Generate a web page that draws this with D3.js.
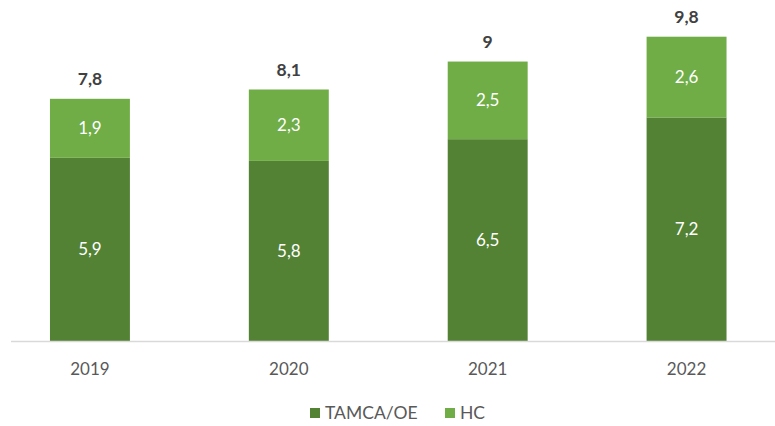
<!DOCTYPE html>
<html>
<head>
<meta charset="utf-8">
<script src="https://cdn.jsdelivr.net/npm/d3@7"></script>
<style>
  html, body { margin: 0; padding: 0; background: #ffffff; }
  svg { display: block; font-family: Lato, "Open Sans", sans-serif; }
</style>
</head>
<body>
<svg id="chart" width="775" height="426"></svg>
<script>
// Yearly values, stacked bottom (TAMCA/OE) then top (HC)
const years = ["2019", "2020", "2021", "2022"];
const tamcaOe = [5.9, 5.8, 6.5, 7.2];
const hc = [1.9, 2.3, 2.5, 2.6];
const totals = [7.8, 8.1, 9, 9.8];
const seriesNames = ["TAMCA/OE", "HC"];
const seriesColors = ["#548235", "#70AD47"];

const fmt = v => String(v).replace(".", ",");

const svg = d3.select("#chart");
const W = 775, H = 426;
const baseY = 341;

const x = d3.scaleBand()
  .domain(years)
  .range([-9.5, 786])
  .paddingInner(0.598)
  .paddingOuter(0.299);

const y = d3.scaleLinear().domain([0, 10]).range([baseY, 30.5]);

const rows = years.map((yr, i) => ({ year: yr, "TAMCA/OE": tamcaOe[i], "HC": hc[i], total: totals[i] }));
const stacked = d3.stack().keys(seriesNames)(rows);

// Bars
svg.append("g").selectAll("g")
  .data(stacked)
  .join("g")
  .attr("fill", (d, i) => seriesColors[i])
  .selectAll("rect")
  .data(d => d)
  .join("rect")
  .attr("x", d => x(d.data.year))
  .attr("width", x.bandwidth())
  .attr("y", d => y(d[1]))
  .attr("height", d => y(d[0]) - y(d[1]));

// Segment value labels
svg.append("g").selectAll("g")
  .data(stacked)
  .join("g")
  .selectAll("text")
  .data(d => d.map(s => ({ s, v: s[1] - s[0] })))
  .join("text")
  .attr("x", d => x(d.s.data.year) + x.bandwidth() / 2)
  .attr("y", d => (y(d.s[0]) + y(d.s[1])) / 2)
  .attr("dy", "0.35em")
  .attr("text-anchor", "middle")
  .attr("fill", "#ffffff")
  .attr("font-size", 17)
  .text(d => fmt(+d.v.toFixed(1)));

// Totals above bars
svg.append("g").selectAll("text")
  .data(rows)
  .join("text")
  .attr("x", d => x(d.year) + x.bandwidth() / 2)
  .attr("y", d => y(d.total) - 20)
  .attr("dy", "0.35em")
  .attr("text-anchor", "middle")
  .attr("fill", "#404040")
  .attr("font-weight", "bold")
  .attr("font-size", 17.5)
  .text(d => fmt(d.total));

// Category axis
const axis = svg.append("g").attr("transform", `translate(0,${baseY})`)
  .call(d3.axisBottom(x).tickSize(0).tickPadding(22));
axis.select(".domain").remove();
axis.selectAll("text")
  .attr("fill", "#595959")
  .attr("font-size", 17)
  .attr("font-family", "Lato, 'Open Sans', sans-serif");
svg.append("line")
  .attr("x1", 11).attr("x2", W)
  .attr("y1", baseY + 0.5).attr("y2", baseY + 0.5)
  .attr("stroke", "#d9d9d9")
  .attr("stroke-width", 1.5);

// Legend
const legendX = [310, 445];
const legend = svg.append("g").selectAll("g")
  .data(seriesNames)
  .join("g")
  .attr("transform", (d, i) => `translate(${legendX[i]},413)`);
legend.append("rect")
  .attr("x", 0).attr("y", -5).attr("width", 10).attr("height", 10)
  .attr("fill", (d, i) => seriesColors[i]);
legend.append("text")
  .attr("x", 15).attr("dy", "0.35em")
  .attr("fill", "#595959")
  .attr("font-size", 17.5)
  .text(d => d);
</script>
</body>
</html>
